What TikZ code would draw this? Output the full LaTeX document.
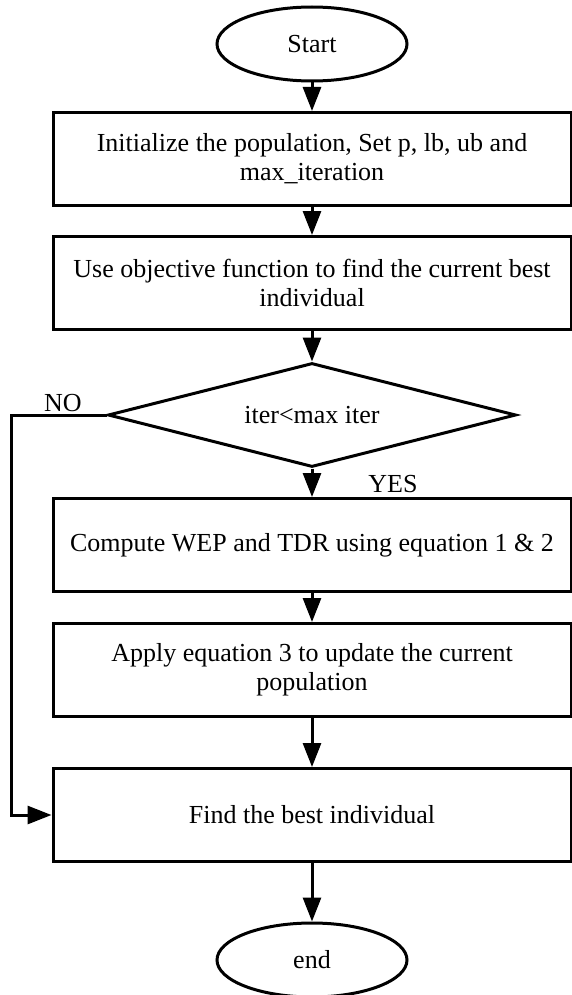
\documentclass[tikz,border=0pt]{standalone}
\usepackage{fontspec}
\setmainfont{Liberation Serif}
\usetikzlibrary{positioning,
        shapes,
        arrows.meta}
\tikzset{
  block/.style={rectangle,draw,minimum width=259pt,minimum height=46.5pt,align=center},
  terminal/.style={ellipse,draw,minimum width=95pt,minimum height=37pt},
  decision/.style={diamond,draw,aspect=3.9,minimum width=204pt,minimum height=52pt,inner sep=0pt}
}

\begin{document}
\begin{tikzpicture}[x=0.5pt,y=-0.5pt,line width=1.5pt,
        font=\fontsize{13}{14.5}\selectfont,
        >={Triangle[length=12pt,width=9pt]}]
            \useasboundingbox (0,0) rectangle (572,995);
            \node [terminal] (start) at (312,44) {Start};
            \node [block] (init) at (312,159) {Initialize the population, Set p, lb, ub and\\max\_iteration};
            \node [block] (eval) at (312,283) {Use objective function to find the current best\\individual};
            \node [decision] (cond) at (312,415) {iter<max iter};
            \node [block] (comp) at (312,545) {Compute WEP and TDR using equation 1 \& 2};
            \node [block] (upd) at (312,670) {Apply equation 3 to update the current\\population};
            \node [block] (best) at (312,815) {Find the best individual};
            \node [terminal] (end) at (312,960) {end};
            \node (no) at (63,403) {NO};
            \node (yes) at (393,484) {YES};
            \coordinate (loop) at (11,415);

            \draw [->] (start) -- (init);
            \draw [->] (init) -- (eval);
            \draw [->] (eval) -- (cond);
            \draw [->] (cond) -- (comp);
            \draw [->] (comp) -- (upd);
            \draw [->] (upd) -- (best);
            \draw [->] (best) -- (end);
            \draw [->] (cond.west) -- (loop) |- (best.west);
        \end{tikzpicture}
\end{document}
